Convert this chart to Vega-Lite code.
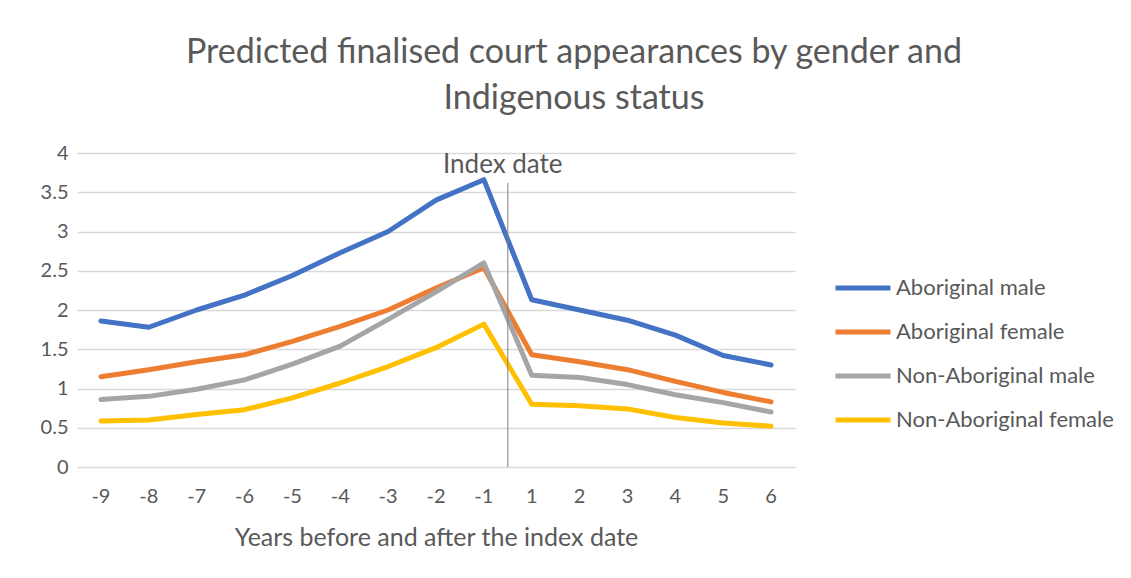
{
  "$schema": "https://vega.github.io/schema/vega-lite/v6.json",
  "width": 718,
  "height": 314,
  "autosize": {"type": "none"},
  "padding": {"left": 77, "top": 153, "right": 336, "bottom": 111},
  "background": "white",
  "title": {
    "text": ["Predicted finalised court appearances by gender and", "Indigenous status"],
    "fontSize": 34,
    "font": "Lato",
    "fontWeight": 400,
    "color": "#595959",
    "anchor": "middle",
    "frame": "group",
    "dx": 138,
    "lineHeight": 46,
    "offset": 27
  },
  "config": {
    "font": "Lato",
    "view": {"stroke": null},
    "axis": {"labelColor": "#595959", "titleColor": "#595959", "labelFont": "Lato", "titleFont": "Lato"}
  },
  "data": {
    "values": [
      {"year": -9, "group": "Aboriginal male", "value": 1.86},
      {"year": -8, "group": "Aboriginal male", "value": 1.78},
      {"year": -7, "group": "Aboriginal male", "value": 2.0},
      {"year": -6, "group": "Aboriginal male", "value": 2.19},
      {"year": -5, "group": "Aboriginal male", "value": 2.44},
      {"year": -4, "group": "Aboriginal male", "value": 2.73},
      {"year": -3, "group": "Aboriginal male", "value": 3.0},
      {"year": -2, "group": "Aboriginal male", "value": 3.4},
      {"year": -1, "group": "Aboriginal male", "value": 3.66},
      {"year": 1, "group": "Aboriginal male", "value": 2.13},
      {"year": 2, "group": "Aboriginal male", "value": 2.0},
      {"year": 3, "group": "Aboriginal male", "value": 1.87},
      {"year": 4, "group": "Aboriginal male", "value": 1.68},
      {"year": 5, "group": "Aboriginal male", "value": 1.42},
      {"year": 6, "group": "Aboriginal male", "value": 1.3},
      {"year": -9, "group": "Aboriginal female", "value": 1.15},
      {"year": -8, "group": "Aboriginal female", "value": 1.24},
      {"year": -7, "group": "Aboriginal female", "value": 1.34},
      {"year": -6, "group": "Aboriginal female", "value": 1.43},
      {"year": -5, "group": "Aboriginal female", "value": 1.6},
      {"year": -4, "group": "Aboriginal female", "value": 1.79},
      {"year": -3, "group": "Aboriginal female", "value": 2.0},
      {"year": -2, "group": "Aboriginal female", "value": 2.28},
      {"year": -1, "group": "Aboriginal female", "value": 2.54},
      {"year": 1, "group": "Aboriginal female", "value": 1.43},
      {"year": 2, "group": "Aboriginal female", "value": 1.34},
      {"year": 3, "group": "Aboriginal female", "value": 1.24},
      {"year": 4, "group": "Aboriginal female", "value": 1.09},
      {"year": 5, "group": "Aboriginal female", "value": 0.95},
      {"year": 6, "group": "Aboriginal female", "value": 0.83},
      {"year": -9, "group": "Non-Aboriginal male", "value": 0.86},
      {"year": -8, "group": "Non-Aboriginal male", "value": 0.9},
      {"year": -7, "group": "Non-Aboriginal male", "value": 0.99},
      {"year": -6, "group": "Non-Aboriginal male", "value": 1.11},
      {"year": -5, "group": "Non-Aboriginal male", "value": 1.31},
      {"year": -4, "group": "Non-Aboriginal male", "value": 1.54},
      {"year": -3, "group": "Non-Aboriginal male", "value": 1.88},
      {"year": -2, "group": "Non-Aboriginal male", "value": 2.23},
      {"year": -1, "group": "Non-Aboriginal male", "value": 2.6},
      {"year": 1, "group": "Non-Aboriginal male", "value": 1.17},
      {"year": 2, "group": "Non-Aboriginal male", "value": 1.14},
      {"year": 3, "group": "Non-Aboriginal male", "value": 1.05},
      {"year": 4, "group": "Non-Aboriginal male", "value": 0.92},
      {"year": 5, "group": "Non-Aboriginal male", "value": 0.82},
      {"year": 6, "group": "Non-Aboriginal male", "value": 0.7},
      {"year": -9, "group": "Non-Aboriginal female", "value": 0.585},
      {"year": -8, "group": "Non-Aboriginal female", "value": 0.6},
      {"year": -7, "group": "Non-Aboriginal female", "value": 0.67},
      {"year": -6, "group": "Non-Aboriginal female", "value": 0.73},
      {"year": -5, "group": "Non-Aboriginal female", "value": 0.88},
      {"year": -4, "group": "Non-Aboriginal female", "value": 1.07},
      {"year": -3, "group": "Non-Aboriginal female", "value": 1.28},
      {"year": -2, "group": "Non-Aboriginal female", "value": 1.52},
      {"year": -1, "group": "Non-Aboriginal female", "value": 1.82},
      {"year": 1, "group": "Non-Aboriginal female", "value": 0.8},
      {"year": 2, "group": "Non-Aboriginal female", "value": 0.78},
      {"year": 3, "group": "Non-Aboriginal female", "value": 0.74},
      {"year": 4, "group": "Non-Aboriginal female", "value": 0.63},
      {"year": 5, "group": "Non-Aboriginal female", "value": 0.56},
      {"year": 6, "group": "Non-Aboriginal female", "value": 0.52}
    ]
  },
  "layer": [
    {
      "mark": {"type": "line", "strokeWidth": 5, "strokeJoin": "round", "strokeCap": "round"},
      "encoding": {
        "x": {
          "field": "year",
          "type": "ordinal",
          "scale": {"type": "band", "paddingInner": 0, "paddingOuter": 0},
          "axis": {
            "title": "Years before and after the index date",
            "labelAngle": 0,
            "labelFontSize": 20,
            "titleFontSize": 25,
            "titleFontWeight": "normal",
            "labelPadding": 19,
            "titlePadding": 19,
            "ticks": false,
            "domain": false,
            "grid": false
          }
        },
        "y": {
          "field": "value",
          "type": "quantitative",
          "scale": {"domain": [0, 4], "nice": false},
          "axis": {
            "title": null,
            "values": [0, 0.5, 1, 1.5, 2, 2.5, 3, 3.5, 4],
            "format": "~g",
            "labelOverlap": false,
            "labelFontSize": 20,
            "labelPadding": 9,
            "ticks": false,
            "domain": false,
            "gridColor": "#d9d9d9",
            "gridWidth": 1.5
          }
        },
        "color": {
          "field": "group",
          "type": "nominal",
          "scale": {
            "domain": ["Aboriginal male", "Aboriginal female", "Non-Aboriginal male", "Non-Aboriginal female"],
            "range": ["#4472C4", "#ED7D31", "#A5A5A5", "#FFC000"]
          },
          "legend": {
            "title": null,
            "orient": "none",
            "legendX": 756,
            "legendY": 105,
            "symbolType": "stroke",
            "symbolSize": 3025,
            "symbolStrokeWidth": 5,
            "labelFontSize": 22,
            "labelColor": "#595959",
            "labelLimit": 400,
            "labelOffset": 3,
            "rowPadding": 3
          }
        }
      }
    },
    {
      "data": {"values": [{}]},
      "mark": {"type": "rule", "color": "#7f7f7f", "strokeWidth": 1},
      "encoding": {
        "x": {"datum": 1, "type": "ordinal", "bandPosition": 0},
        "y": {
          "datum": 0,
          "type": "quantitative",
          "axis": {
            "title": null,
            "values": [0, 0.5, 1, 1.5, 2, 2.5, 3, 3.5, 4],
            "format": "~g",
            "labelOverlap": false,
            "labelFontSize": 20,
            "labelPadding": 9,
            "ticks": false,
            "domain": false,
            "gridColor": "#d9d9d9",
            "gridWidth": 1.5
          }
        },
        "y2": {"datum": 3.62}
      }
    },
    {
      "data": {"values": [{}]},
      "mark": {"type": "text", "text": "Index date", "fontSize": 26, "color": "#595959", "align": "center", "baseline": "middle", "dx": -5},
      "encoding": {
        "x": {"datum": 1, "type": "ordinal", "bandPosition": 0},
        "y": {
          "datum": 3.85,
          "type": "quantitative",
          "axis": {
            "title": null,
            "values": [0, 0.5, 1, 1.5, 2, 2.5, 3, 3.5, 4],
            "format": "~g",
            "labelOverlap": false,
            "labelFontSize": 20,
            "labelPadding": 9,
            "ticks": false,
            "domain": false,
            "gridColor": "#d9d9d9",
            "gridWidth": 1.5
          }
        }
      }
    }
  ]
}
